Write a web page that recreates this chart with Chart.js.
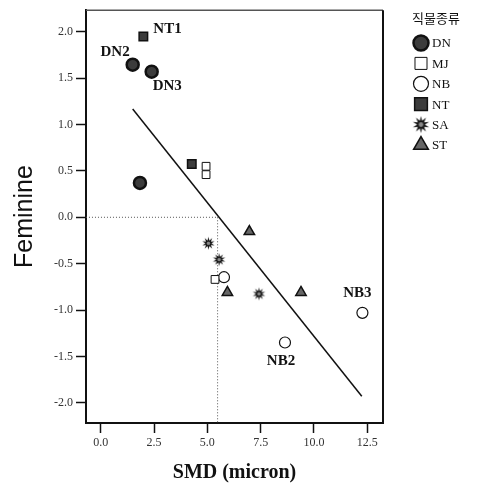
<!DOCTYPE html>
<html>
<head>
<meta charset="utf-8">
<script src="https://cdn.jsdelivr.net/npm/chart.js@4.4.1/dist/chart.umd.min.js"></script>
<style>
  html, body { margin: 0; padding: 0; background: #fff; }
  #wrap { width: 478px; height: 483px; }
</style>
</head>
<body>
<div id="wrap"><canvas id="smdChart"></canvas></div>
<script>
// 직물종류 별 값 (SMD, Feminine)
const dnPoints = [[1.5, 1.645], [2.39, 1.57], [1.84, 0.37]];
const dnNames = ['DN2', 'DN3', ''];
const mjPoints = [[4.94, 0.55], [4.94, 0.46], [5.36, -0.67]];
const mjNames = ['', '', ''];
const nbPoints = [[5.78, -0.646], [8.64, -1.35], [12.27, -1.03]];
const nbNames = ['', 'NB2', 'NB3'];
const ntPoints = [[2.0, 1.95], [4.27, 0.575]];
const ntNames = ['NT1', ''];
const saPoints = [[5.05, -0.28], [5.55, -0.456], [7.42, -0.826]];
const saNames = ['', '', ''];
const stPoints = [[6.97, -0.154], [5.94, -0.81], [9.39, -0.81]];
const stNames = ['', '', ''];

// 회귀선 끝점, 기준선
const fitLine = [[1.5, 1.168], [12.24, -1.93]];
const refX = 5.48;
const refY = 0;

const xTicks = [0, 2.5, 5, 7.5, 10, 12.5];
const yTicks = [-2, -1.5, -1, -0.5, 0, 0.5, 1, 1.5, 2];
const legendTitle = '직물종류';

const toXY = arr => arr.map(p => ({ x: p[0], y: p[1] }));

// SA 별 모양 마커
function makeStar(r) {
    const c = document.createElement('canvas');
    const s = Math.ceil(r * 2 + 2);
    c.width = s; c.height = s;
    const g = c.getContext('2d');
    const cx = s / 2, cy = s / 2;
    g.beginPath();
    for (let i = 0; i < 20; i++) {
        const rad = i % 2 === 0 ? r : r * 0.45;
        const a = -Math.PI / 2 + i * Math.PI / 10;
        const px = cx + rad * Math.cos(a), py = cy + rad * Math.sin(a);
        if (i === 0) g.moveTo(px, py); else g.lineTo(px, py);
    }
    g.closePath();
    g.fillStyle = '#111';
    g.fill();
    g.beginPath();
    g.arc(cx, cy, r * 0.28, 0, Math.PI * 2);
    g.fillStyle = '#888';
    g.fill();
    return c;
}
const starSmall = makeStar(6.5);
const starBig = makeStar(8.5);

const speciesSets = [
    { label: 'DN', data: toXY(dnPoints), names: dnNames, pointStyle: 'circle', pointRadius: 6,
      backgroundColor: '#3c3c3c', borderColor: '#111', borderWidth: 2.5, legendRadius: 7.5 },
    { label: 'MJ', data: toXY(mjPoints), names: mjNames, pointStyle: 'rect', pointRadius: 5.5,
      backgroundColor: '#fff', borderColor: '#111', borderWidth: 1, legendRadius: 8.5 },
    { label: 'NB', data: toXY(nbPoints), names: nbNames, pointStyle: 'circle', pointRadius: 5.5,
      backgroundColor: '#fff', borderColor: '#111', borderWidth: 1.2, legendRadius: 7.5 },
    { label: 'NT', data: toXY(ntPoints), names: ntNames, pointStyle: 'rect', pointRadius: 6,
      backgroundColor: '#3c3c3c', borderColor: '#111', borderWidth: 1.5, legendRadius: 9 },
    { label: 'SA', data: toXY(saPoints), names: saNames, pointStyle: starSmall, legendStyle: starBig,
      pointRadius: 7, backgroundColor: '#111', borderColor: '#111', borderWidth: 1, legendRadius: 8 },
    { label: 'ST', data: toXY(stPoints), names: stNames, pointStyle: 'triangle', pointRadius: 6,
      backgroundColor: '#666', borderColor: '#111', borderWidth: 1.5, legendRadius: 8.5 }
];

// 점 이름표 위치 (px 기준)
const labelPlace = {
    NT1: { dx: 10, dy: -7, align: 'left' },
    DN2: { dx: -3, dy: -13, align: 'right' },
    DN3: { dx: 1, dy: 14, align: 'left' },
    NB3: { dx: -5, dy: -20, align: 'center' },
    NB2: { dx: -4, dy: 19, align: 'center' }
};

const pointLabelPlugin = {
    id: 'pointLabels',
    afterDatasetsDraw(chart) {
        const ctx = chart.ctx;
        ctx.save();
        ctx.font = 'bold 15px "Liberation Serif", "DejaVu Serif", serif';
        ctx.fillStyle = '#111';
        ctx.textBaseline = 'middle';
        chart.data.datasets.forEach((ds, di) => {
            if (!ds.names) return;
            const meta = chart.getDatasetMeta(di);
            ds.names.forEach((name, i) => {
                if (!name) return;
                const pl = labelPlace[name];
                const el = meta.data[i];
                ctx.textAlign = pl.align;
                ctx.fillText(name, el.x + pl.dx, el.y + pl.dy);
            });
        });
        ctx.restore();
    }
};

const framePlugin = {
    id: 'frame',
    afterDraw(chart) {
        const { left, right, top, bottom } = chart.chartArea;
        const ctx = chart.ctx;
        ctx.save();
        ctx.strokeStyle = '#555';
        ctx.lineWidth = 1.5;
        ctx.beginPath();
        ctx.moveTo(left, top); ctx.lineTo(right, top);
        ctx.stroke();
        ctx.strokeStyle = '#111';
        ctx.lineWidth = 2;
        ctx.beginPath();
        ctx.moveTo(right, top); ctx.lineTo(right, bottom);
        ctx.stroke();
        ctx.restore();
    }
};

const legendPlugin = {
    id: 'sideLegend',
    afterDraw(chart) {
        const ctx = chart.ctx;
        const mx = 421, tx = 432, y0 = 43, step = 20.4;
        ctx.save();
        ctx.fillStyle = '#111';
        ctx.font = '13px "Noto Sans CJK KR", sans-serif';
        ctx.textAlign = 'center';
        ctx.textBaseline = 'middle';
        ctx.fillText(legendTitle, 436, 18);
        ctx.font = '13px "Liberation Serif", serif';
        ctx.textAlign = 'left';
        speciesSets.forEach((s, i) => {
            const y = y0 + i * step;
            ctx.fillStyle = s.backgroundColor;
            ctx.strokeStyle = s.borderColor;
            ctx.lineWidth = s.borderWidth;
            Chart.helpers.drawPoint(ctx, {
                pointStyle: s.legendStyle || s.pointStyle,
                radius: s.legendRadius,
                borderWidth: s.borderWidth,
                rotation: 0
            }, mx, y);
            ctx.fillStyle = '#111';
            ctx.fillText(s.label, tx, y + 1);
        });
        ctx.restore();
    }
};

const tickFont = { family: '"Liberation Serif", "DejaVu Serif", serif', size: 12 };

new Chart(document.getElementById('smdChart'), {
    type: 'scatter',
    data: {
        datasets: [
            ...speciesSets.map(s => ({
                label: s.label,
                data: s.data,
                names: s.names,
                pointStyle: s.pointStyle,
                pointRadius: s.pointRadius,
                backgroundColor: s.backgroundColor,
                borderColor: s.borderColor,
                borderWidth: s.borderWidth
            })),
            {
                label: 'fit',
                type: 'line',
                data: toXY(fitLine),
                borderColor: '#111',
                borderWidth: 1.5,
                pointRadius: 0,
                fill: false
            },
            {
                label: 'refH',
                type: 'line',
                data: [{ x: -0.69, y: refY }, { x: refX, y: refY }],
                borderColor: '#555',
                borderWidth: 1,
                borderDash: [1, 2],
                pointRadius: 0
            },
            {
                label: 'refV',
                type: 'line',
                data: [{ x: refX, y: refY }, { x: refX, y: -2.218 }],
                borderColor: '#555',
                borderWidth: 1,
                borderDash: [1, 2],
                pointRadius: 0
            }
        ]
    },
    options: {
        responsive: true,
        maintainAspectRatio: false,
        animation: false,
        layout: { padding: { top: 9, right: 95, left: 0, bottom: 0 } },
        plugins: {
            legend: { display: false },
            tooltip: { enabled: false }
        },
        scales: {
            x: {
                type: 'linear',
                min: -0.689,
                max: 13.235,
                afterBuildTicks: axis => { axis.ticks = xTicks.map(v => ({ value: v })); },
                afterFit: axis => { axis.height = 60; },
                grid: { drawOnChartArea: false, drawTicks: true, tickLength: 10, tickColor: '#111', tickWidth: 1.5 },
                border: { display: true, color: '#111', width: 2 },
                ticks: { font: tickFont, color: '#333', padding: 3, callback: v => v.toFixed(1) },
                title: {
                    display: true,
                    text: 'SMD (micron)',
                    color: '#111',
                    font: { family: '"Liberation Serif", serif', size: 20, weight: 'bold' },
                    padding: { top: 0, bottom: -2 }
                }
            },
            y: {
                type: 'linear',
                min: -2.218,
                max: 2.233,
                afterBuildTicks: axis => { axis.ticks = yTicks.map(v => ({ value: v })); },
                afterFit: axis => { axis.width = 86; },
                grid: { drawOnChartArea: false, drawTicks: true, tickLength: 10, tickColor: '#111', tickWidth: 1.5 },
                border: { display: true, color: '#111', width: 2 },
                ticks: { font: tickFont, color: '#333', padding: 3, callback: v => v.toFixed(1) },
                title: {
                    display: true,
                    text: 'Feminine',
                    color: '#111',
                    font: { family: '"Liberation Sans", Arial, sans-serif', size: 25 },
                    padding: { top: 10, bottom: 0 }
                }
            }
        }
    },
    plugins: [pointLabelPlugin, framePlugin, legendPlugin]
});
</script>
</body>
</html>
